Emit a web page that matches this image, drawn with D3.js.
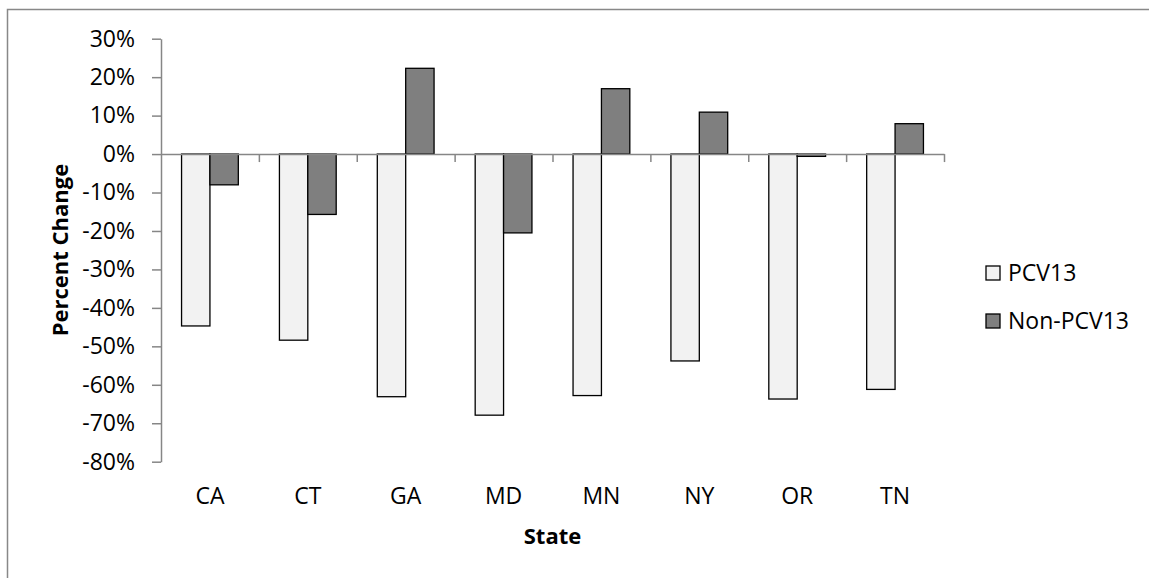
<!DOCTYPE html>
<html lang="en">

<head>
  <meta charset="UTF-8">
  <title>Percent Change by State</title>
  <script src="https://d3js.org/d3.v7.min.js"></script>
  <style>
    body {
      margin: 0;
      background: #fff;
      font-family: "Open Sans", sans-serif;
    }

    .axis text {
      font-family: "Open Sans", sans-serif;
      font-size: 23px;
      fill: #000;
    }

    .axis path,
    .axis line {
      stroke: #868686;
      stroke-width: 1.5;
    }

    .title {
      font-size: 22px;
      font-weight: bold;
    }

    .legend text {
      font-size: 23px;
    }
  </style>
</head>

<body>
  <svg class="chart" width="1149" height="578"></svg>

  <script>
    const states = ["CA", "CT", "GA", "MD", "MN", "NY", "OR", "TN"];
    const seriesNames = ["PCV13", "Non-PCV13"];
    const pcv13 = [-0.447, -0.484, -0.631, -0.679, -0.628, -0.538, -0.637, -0.612];
    const nonPcv13 = [-0.080, -0.157, 0.223, -0.205, 0.170, 0.109, -0.006, 0.079];
    const yTicks = [0.3, 0.2, 0.1, 0, -0.1, -0.2, -0.3, -0.4, -0.5, -0.6, -0.7, -0.8];

    const colors = { "PCV13": "#f2f2f2", "Non-PCV13": "#7f7f7f" };

    const margin = { top: 38.7, left: 161 };
    const width = 783;
    const height = 423;

    // excel style percent with a plain hyphen
    const pct = d => `${Math.round(d * 100)}%`;

    const svg = d3.select(".chart");

    // outer chart-area border (runs off the right/bottom edge)
    svg.append("rect")
      .attr("x", 7.5)
      .attr("y", 9.5)
      .attr("width", 1300)
      .attr("height", 700)
      .attr("fill", "none")
      .attr("stroke", "#888")
      .attr("stroke-width", 1.5);

    const g = svg.append("g")
      .attr("transform", `translate(${margin.left},${margin.top})`);

    const y = d3.scaleLinear()
      .domain([-0.8, 0.3])
      .range([height, 0]);

    const x0 = d3.scaleBand()
      .domain(states)
      .range([0, width])
      .paddingInner(0.42)
      .paddingOuter(0.21);

    const x1 = d3.scaleBand()
      .domain(seriesNames)
      .range([0, x0.bandwidth()]);

    const edges = d3.scaleLinear()
      .domain([0, states.length])
      .range([0, width]);

    // y axis
    g.append("g")
      .attr("class", "axis")
      .call(d3.axisLeft(y)
        .tickValues(yTicks)
        .tickSize(9)
        .tickSizeOuter(0)
        .tickPadding(17)
        .tickFormat(pct));

    // bars
    const data = states.map((s, i) => ({
      state: s,
      values: [
        { key: "PCV13", value: pcv13[i] },
        { key: "Non-PCV13", value: nonPcv13[i] }
      ]
    }));

    const groups = g.selectAll(".state")
      .data(data)
      .enter()
      .append("g")
      .attr("class", "state")
      .attr("transform", d => `translate(${x0(d.state)},0)`);

    groups.selectAll("rect")
      .data(d => d.values)
      .enter()
      .append("rect")
      .attr("x", d => x1(d.key))
      .attr("y", d => y(Math.max(0, d.value)))
      .attr("width", x1.bandwidth())
      .attr("height", d => Math.abs(y(d.value) - y(0)))
      .attr("fill", d => colors[d.key])
      .attr("stroke", "#000")
      .attr("stroke-width", 1.3);

    // zero line with tick marks between categories
    g.append("g")
      .attr("class", "axis")
      .attr("transform", `translate(0,${y(0)})`)
      .call(d3.axisBottom(edges)
        .tickValues(d3.range(1, states.length + 1))
        .tickSize(8)
        .tickSizeOuter(0)
        .tickFormat(""));

    // category labels below the plot
    const catAxis = g.append("g")
      .attr("class", "axis")
      .attr("transform", `translate(0,${height})`)
      .call(d3.axisBottom(x0).tickSize(0).tickPadding(26));
    catAxis.select(".domain").remove();

    // axis titles
    g.append("text")
      .attr("class", "title")
      .attr("x", width / 2)
      .attr("y", height + 82)
      .attr("text-anchor", "middle")
      .text("State");

    g.append("text")
      .attr("class", "title")
      .attr("transform", `translate(${60 - margin.left + 8},${250 - margin.top}) rotate(-90)`)
      .attr("text-anchor", "middle")
      .text("Percent Change");

    // legend
    const legend = svg.append("g")
      .attr("class", "legend")
      .attr("transform", "translate(986,266)");

    const items = legend.selectAll("g")
      .data(seriesNames)
      .enter()
      .append("g")
      .attr("transform", (d, i) => `translate(0,${i * 48})`);

    items.append("rect")
      .attr("width", 14)
      .attr("height", 14)
      .attr("fill", d => colors[d])
      .attr("stroke", "#000")
      .attr("stroke-width", 1.3);

    items.append("text")
      .attr("x", 22)
      .attr("y", 15)
      .text(d => d);
  </script>

</body>

</html>
